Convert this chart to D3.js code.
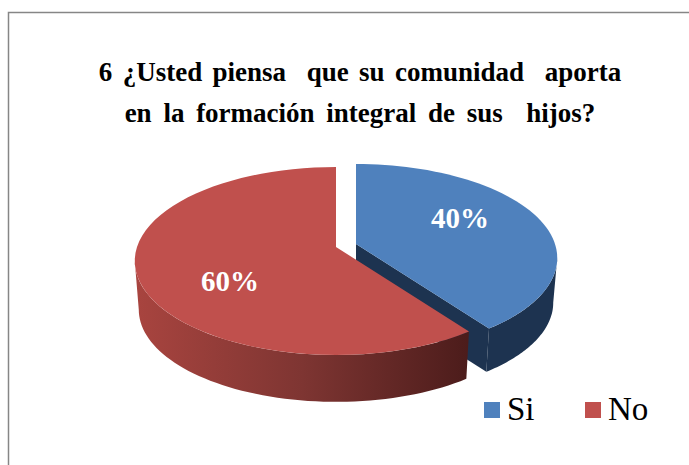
<!DOCTYPE html>
<html>
<head>
<meta charset="utf-8">
<script src="https://cdnjs.cloudflare.com/ajax/libs/d3/7.8.5/d3.min.js"></script>
<style>
html, body { margin: 0; padding: 0; background: #fff; overflow: hidden; }
text { font-family: "Liberation Serif", serif; }
</style>
</head>
<body>
<div id="frame"></div>
<script>
const categories = ['Si', 'No'];
const values = [40, 60];
const titleLines = ['6 ¿Usted piensa  que su comunidad  aporta', 'en la formación integral de sus  hijos?'];

const colors = d3.scaleOrdinal().domain(categories).range(['#4f81bd', '#c0504d']);

let width = 689,
    height = 465;

let svg = d3.select('#frame')
    .append('svg')
    .attr('width', width)
    .attr('height', height);

// side of the red slice gets darker to the right
let grad = svg.append('defs').append('linearGradient')
    .attr('id', 'redSide')
    .attr('gradientUnits', 'userSpaceOnUse')
    .attr('x1', 137).attr('x2', 468)
    .attr('y1', 0).attr('y2', 0);
grad.append('stop').attr('offset', '0').attr('stop-color', '#a8443f');
grad.append('stop').attr('offset', '0.5').attr('stop-color', '#7e3532');
grad.append('stop').attr('offset', '1').attr('stop-color', '#4c1c1b');

// outer frame, only top and left show
svg.append('path')
    .attr('d', 'M8.5,465V12.5H689')
    .attr('fill', 'none')
    .attr('stroke', '#868686')
    .attr('stroke-width', 1.5);

//title
const titleSpacing = [3.6, 5];
svg.selectAll('.title')
    .data(titleLines)
    .enter()
    .append('text')
    .attr('class', 'title')
    .attr('x', 360)
    .attr('y', (d, i) => 81 + i * 41)
    .attr('text-anchor', 'middle')
    .attr('xml:space', 'preserve')
    .style('white-space', 'pre')
    .style('font-size', '27px')
    .style('font-weight', 'bold')
    .style('word-spacing', (d, i) => titleSpacing[i] + 'px')
    .text(d => d);

let pie = d3.pie().sort(null)(values);

// tilt: the near edge of the disc looks bigger than the far one
const radius = 199, tiltY = 91.9, persp = 0.149, bottomScale = 0.98;
// angle where the rim reaches its widest point on screen
const widest = Math.acos(-persp);

function project(a, center, depth) {
    let s = depth ? bottomScale : 1;
    let w = 1 + persp * Math.cos(a);
    return [
        center[0] + s * radius * Math.sin(a) / w,
        center[1] + depth - s * tiltY * Math.cos(a) / w
    ];
}

function rim(a0, a1, center, depth) {
    return d3.range(0, 61).map(i => project(a0 + (a1 - a0) * i / 60, center, depth));
}

let line = d3.line();

const centers = [[356, 244], [336, 247]];
const depths = [45, 49];
const sideFill = ['#1d3350', 'url(#redSide)'];
const sideFrom = [widest, pie[1].startAngle];
const sideTo = [pie[0].endAngle, Math.PI * 2 - widest];

pie.forEach((d, i) => {
    let c = centers[i];
    let g = svg.append('g');

    // outer wall
    g.append('path')
        .attr('d', line(rim(sideFrom[i], sideTo[i], c, 0).concat(rim(sideFrom[i], sideTo[i], c, depths[i]).reverse())) + 'Z')
        .attr('fill', sideFill[i]);

    // cut wall of the blue slice
    if (i === 0) {
        g.append('path')
            .attr('d', line([[c[0], c[1]], project(d.endAngle, c, 0), project(d.endAngle, c, depths[i]), [c[0], c[1] + depths[i]]]) + 'Z')
            .attr('fill', sideFill[i]);
    }

    // top face
    g.append('path')
        .attr('d', line([c].concat(rim(d.startAngle, d.endAngle, c, 0))) + 'Z')
        .attr('fill', colors(categories[i]));
});

//value labels
const labelPos = [[460, 218], [230, 281]];
svg.selectAll('.pct')
    .data(values)
    .enter()
    .append('text')
    .attr('class', 'pct')
    .attr('x', (d, i) => labelPos[i][0])
    .attr('y', (d, i) => labelPos[i][1] + 10)
    .attr('text-anchor', 'middle')
    .attr('fill', '#fff')
    .style('font-size', '29px')
    .style('font-weight', 'bold')
    .text(d => d + '%');

//legend
const legendX = [484, 585];
svg.selectAll('.key')
    .data(categories)
    .enter()
    .append('rect')
    .attr('class', 'key')
    .attr('x', (d, i) => legendX[i])
    .attr('y', 402)
    .attr('width', 16)
    .attr('height', 16)
    .attr('fill', d => colors(d));
svg.selectAll('.keyText')
    .data(categories)
    .enter()
    .append('text')
    .attr('class', 'keyText')
    .attr('x', (d, i) => legendX[i] + 23)
    .attr('y', 420)
    .style('font-size', '33px')
    .text(d => d);
</script>
</body>
</html>
